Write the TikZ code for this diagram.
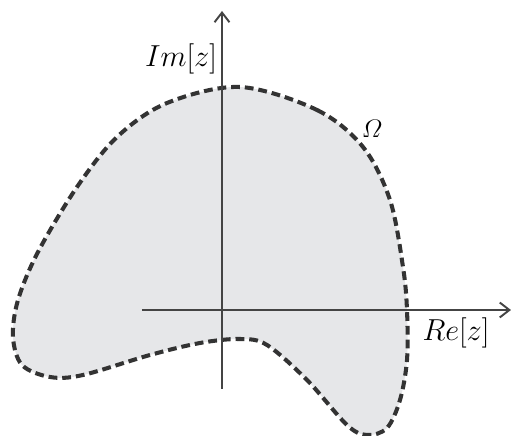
\documentclass[tikz,border=0pt]{standalone}
\usepackage{amsmath,amssymb}
\usetikzlibrary{arrows.meta}
\definecolor{regiongray}{HTML}{E6E7E9}
\definecolor{dashgray}{HTML}{333333}
\definecolor{axisgray}{HTML}{444444}
\begin{document}
\begin{tikzpicture}[x=0.02cm, y=0.02cm,
    axis/.style={line width=1.1pt, draw=axisgray, -{Straight Barb[length=5.5pt, width=8.5pt]}},
    boundary/.style={line width=2.3pt, draw=dashgray, fill=regiongray, dash pattern=on 5pt off 2.8pt},
    lbl/.style={inner sep=0pt, font=\fontsize{18}{22}\selectfont}]

    \useasboundingbox (0,0) rectangle (512,436);

    % region Omega
    \draw[boundary] plot[smooth cycle, tension=0.55] coordinates {
        (240,349) (317,326) (363,289) (390,236) (403,169) (407,126)
        (407,76) (400,36) (387,8) (367,1) (347,11) (307,56) (267,91)
        (240,97) (200,93) (150,81) (83,61) (50,59) (22,71) (13,99)
        (18,136) (38,184) (77,249) (117,299) (167,333)};

    % axes
    \coordinate (xstart) at (142,126);
    \coordinate (xend) at (511,126);
    \coordinate (ystart) at (222,47);
    \coordinate (yend) at (222,425);
    \draw[axis] (xstart) -- (xend);
    \draw[axis] (ystart) -- (yend);

    % labels
    \node[lbl] (im) at (181,377) {$Im[z]$};
    \node[lbl] (re) at (456,103) {$Re[z]$};
    \node[lbl, font=\fontsize{15}{18}\selectfont] (omega) at (372,307) {$\varOmega$};

\end{tikzpicture}
\end{document}
